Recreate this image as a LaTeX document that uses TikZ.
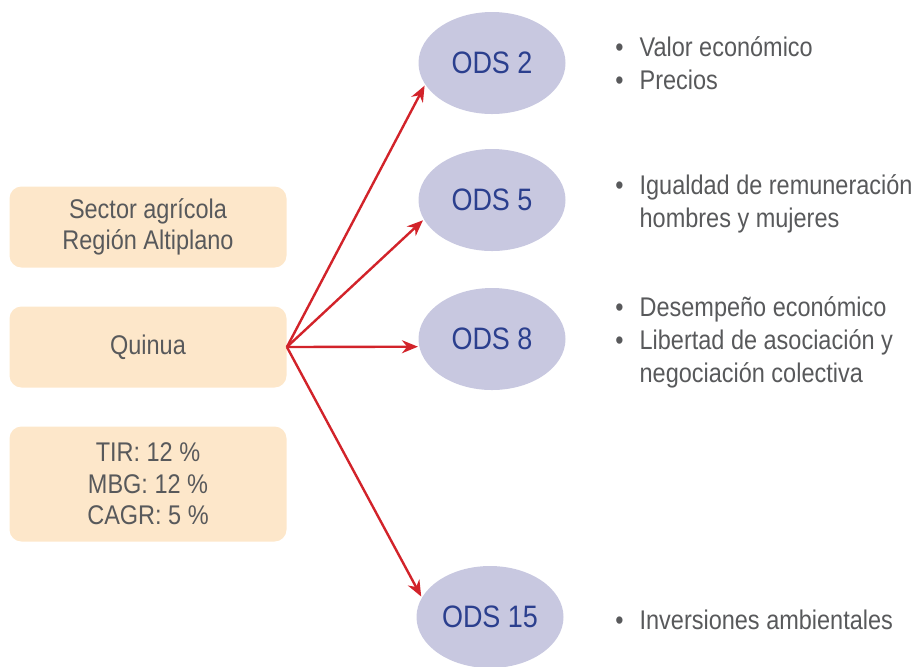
\documentclass[tikz,border=0pt]{standalone}
\usepackage{fontspec}
\setmainfont{Liberation Sans}[FakeStretch=0.87]
\usepackage{tikz}
\usetikzlibrary{arrows.meta,shapes.geometric}
\usepackage{xcolor}
\definecolor{odsgray}{RGB}{88,89,91}
\definecolor{odsblue}{RGB}{43,63,142}
\definecolor{odsred}{RGB}{210,35,42}
\definecolor{odsbeige}{RGB}{253,231,202}
\definecolor{odslilac}{RGB}{200,200,224}
\tikzset{
  infobox/.style={rectangle,rounded corners=6pt,fill=odsbeige,text=odsgray,
    minimum width=138.5pt,minimum height=40.5pt,align=center,
    font=\fontsize{13.5}{15.75}\selectfont},
  odsnode/.style={ellipse,fill=odslilac,text=odsblue,inner sep=0pt,
    minimum width=73.5pt,minimum height=51pt,font=\fontsize{15.5}{19}\selectfont},
  itemtext/.style={anchor=west,text=odsgray,inner sep=0pt,
    font=\fontsize{13.5}{16.5}\selectfont},
  odsarrow/.style={-{Stealth[length=8pt,width=6.5pt]},line width=1.2pt,
    draw=odsred,shorten >=0.5pt}
}
\newcommand{\odsitems}[1]{\begin{tabular}{@{}l@{\hspace{8pt}}l@{}}#1\end{tabular}}

\begin{document}
\begin{tikzpicture}[x=0.5pt,y=-0.5pt]
  \useasboundingbox (0,0) rectangle (919,666);
  \node[infobox] (sector) at (148,227) {Sector agrícola\\Región Altiplano};
  \node[infobox] (quinua) at (148,347) {Quinua};
  \node[infobox,minimum height=57.5pt] (indic) at (148,484) {TIR: 12 \%\\MBG: 12 \%\\CAGR: 5 \%};
  \node[odsnode] (ods2) at (492,63) {ODS 2};
  \node[odsnode] (ods5) at (492,200) {ODS 5};
  \node[odsnode] (ods8) at (492,339) {ODS 8};
  \node[odsnode] (ods15) at (490,617) {ODS 15};
  \node[itemtext] (txt2) at (615,66.5)
    {\odsitems{\textbullet & Valor económico\\ \textbullet & Precios}};
  \node[itemtext] (txt5) at (615,204.5)
    {\odsitems{\textbullet & Igualdad de remuneración\\ & hombres y mujeres}};
  \node[itemtext] (txt8) at (615,343)
    {\odsitems{\textbullet & Desempeño económico\\ \textbullet & Libertad de asociación y\\ & negociación colectiva}};
  \node[itemtext] (txt15) at (615,623)
    {\odsitems{\textbullet & Inversiones ambientales}};
  \draw[odsarrow] (quinua.east) -- (ods2.198);
  \draw[odsarrow] (quinua.east) -- (ods5.196);
  \draw[odsarrow] (quinua.east) -- (ods8.186);
  \draw[odsarrow] (quinua.east) -- (ods15.164);
\end{tikzpicture}
\end{document}
